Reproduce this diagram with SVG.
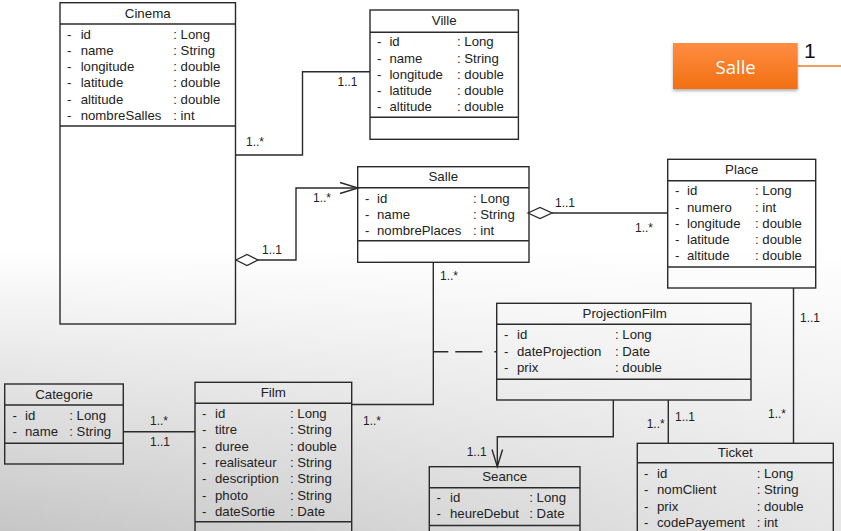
<svg xmlns="http://www.w3.org/2000/svg" width="841" height="531" viewBox="0 0 841 531">
<defs>
  <linearGradient id="bgV" x1="0" y1="0" x2="0" y2="1">
    <stop offset="0" stop-color="#ffffff"/>
    <stop offset="0.47" stop-color="#ffffff"/>
    <stop offset="0.7" stop-color="#e6e6e6"/>
    <stop offset="1" stop-color="#c6c6c6"/>
  </linearGradient>
  <linearGradient id="bgH" x1="0" y1="0" x2="1" y2="0">
    <stop offset="0" stop-color="#ffffff" stop-opacity="0"/>
    <stop offset="1" stop-color="#ffffff" stop-opacity="0.55"/>
  </linearGradient>
  <linearGradient id="orange" x1="0" y1="0" x2="0" y2="1">
    <stop offset="0" stop-color="#ff8d42"/>
    <stop offset="1" stop-color="#f26f12"/>
  </linearGradient>
  <filter id="shadow" x="-10%" y="-10%" width="120%" height="140%">
    <feDropShadow dx="0" dy="2" stdDeviation="1.5" flood-color="#000" flood-opacity="0.3"/>
  </filter>
  <style>
    .box { fill: none; stroke: #2a2a2a; stroke-width: 1.4; }
    .sep { stroke: #2a2a2a; stroke-width: 1.4; }
    .t { font-family: "Liberation Sans", Arial, sans-serif; font-size: 13.2px; fill: #222; }
    .title { font-family: "Liberation Sans", Arial, sans-serif; font-size: 13.3px; fill: #222; text-anchor: middle; }
    .lbl { font-family: "Liberation Sans", Arial, sans-serif; font-size: 12px; fill: #222; }
    .conn { fill: none; stroke: #2a2a2a; stroke-width: 1.4; }
    .dia { fill: #ffffff; stroke: #2a2a2a; stroke-width: 1.3; }
  </style>
</defs>

<rect x="0" y="0" width="841" height="531" fill="url(#bgV)"/>
<rect x="0" y="0" width="841" height="531" fill="url(#bgH)"/>

<g id="connectors">
  <!-- Cinema - Ville -->
  <polyline class="conn" points="236,155 302.5,155 302.5,71.7 370,71.7"/>
  <text class="lbl" x="246" y="146">1..*</text>
  <text class="lbl" x="337.5" y="86">1..1</text>
  <!-- Cinema - Salle -->
  <polyline class="conn" points="258,260 296,260 296,188 358,188"/>
  <polyline class="conn" points="340,182.5 358,188 340,193.5"/>
  <polygon class="dia" points="236,260 247,254.5 258,260 247,265.5"/>
  <text class="lbl" x="262" y="254">1..1</text>
  <text class="lbl" x="313" y="202">1..*</text>
  <!-- Salle - Place -->
  <line class="conn" x1="552" y1="213" x2="668" y2="213"/>
  <polygon class="dia" points="528,213 540,207.5 552,213 540,218.5"/>
  <text class="lbl" x="555" y="207">1..1</text>
  <text class="lbl" x="635" y="231.5">1..*</text>
  <!-- Salle - Film -->
  <polyline class="conn" points="433.3,262.5 433.3,404.5 352,404.5"/>
  <text class="lbl" x="440" y="280">1..*</text>
  <text class="lbl" x="363" y="425">1..*</text>
  <!-- Association class ProjectionFilm -->
  <line class="conn" x1="433.3" y1="351.7" x2="497" y2="351.7" stroke-dasharray="15 7 27 12"/>
  <!-- Categorie - Film -->
  <line class="conn" x1="123.3" y1="431.7" x2="195" y2="431.7"/>
  <text class="lbl" x="150" y="425">1..*</text>
  <text class="lbl" x="150" y="446">1..1</text>
  <!-- ProjectionFilm - Seance -->
  <polyline class="conn" points="613.3,400 613.3,436.7 497.3,436.7 497.3,466.7"/>
  <polyline class="conn" points="492,449.5 497.3,466.7 502.6,449.5"/>
  <text class="lbl" x="466.7" y="456">1..1</text>
  <!-- ProjectionFilm - Ticket -->
  <line class="conn" x1="668.3" y1="400" x2="668.3" y2="443.3"/>
  <text class="lbl" x="646.7" y="428">1..*</text>
  <text class="lbl" x="675" y="421">1..1</text>
  <!-- Place - Ticket -->
  <line class="conn" x1="793.5" y1="288" x2="793.5" y2="443.3"/>
  <text class="lbl" x="800" y="322">1..1</text>
  <text class="lbl" x="768" y="417.6">1..*</text>
  <!-- orange callout line -->
  <line x1="797.7" y1="66" x2="841" y2="66" stroke="#f07a2a" stroke-width="1.6"/>
</g>

<g id="Cinema">
  <rect class="box" x="60" y="2.7" width="175.5" height="321.3"/>
  <line class="sep" x1="60" y1="24" x2="235.5" y2="24"/>
  <line class="sep" x1="60" y1="126" x2="235.5" y2="126"/>
  <text class="title" x="147.7" y="17.5">Cinema</text>
  <text class="t" x="67" y="38.7">-</text><text class="t" x="80.7" y="38.7">id</text><text class="t" x="173.3" y="38.7">: Long</text>
  <text class="t" x="67" y="54.9">-</text><text class="t" x="80.7" y="54.9">name</text><text class="t" x="173.3" y="54.9">: String</text>
  <text class="t" x="67" y="71.1">-</text><text class="t" x="80.7" y="71.1">longitude</text><text class="t" x="173.3" y="71.1">: double</text>
  <text class="t" x="67" y="87.3">-</text><text class="t" x="80.7" y="87.3">latitude</text><text class="t" x="173.3" y="87.3">: double</text>
  <text class="t" x="67" y="103.5">-</text><text class="t" x="80.7" y="103.5">altitude</text><text class="t" x="173.3" y="103.5">: double</text>
  <text class="t" x="67" y="119.7">-</text><text class="t" x="80.7" y="119.7">nombreSalles</text><text class="t" x="173.3" y="119.7">: int</text>
</g>

<g id="Ville">
  <rect class="box" x="370" y="10" width="148.4" height="129.3"/>
  <line class="sep" x1="370" y1="32.3" x2="518.4" y2="32.3"/>
  <line class="sep" x1="370" y1="117.3" x2="518.4" y2="117.3"/>
  <text class="title" x="444.2" y="25.4">Ville</text>
  <text class="t" x="377" y="46.4">-</text><text class="t" x="389.4" y="46.4">id</text><text class="t" x="457" y="46.4">: Long</text>
  <text class="t" x="377" y="62.6">-</text><text class="t" x="389.4" y="62.6">name</text><text class="t" x="457" y="62.6">: String</text>
  <text class="t" x="377" y="78.8">-</text><text class="t" x="389.4" y="78.8">longitude</text><text class="t" x="457" y="78.8">: double</text>
  <text class="t" x="377" y="95">-</text><text class="t" x="389.4" y="95">latitude</text><text class="t" x="457" y="95">: double</text>
  <text class="t" x="377" y="111.2">-</text><text class="t" x="389.4" y="111.2">altitude</text><text class="t" x="457" y="111.2">: double</text>
</g>

<g id="SalleCallout">
  <rect x="673" y="43" width="124.7" height="46" fill="url(#orange)" filter="url(#shadow)"/>
  <text x="735.7" y="73.5" font-family="'Open Sans', 'Noto Sans', sans-serif" font-size="18.5" fill="#ffffff" text-anchor="middle">Salle</text>
  <text x="804" y="58" font-family="'Liberation Sans', Arial, sans-serif" font-size="21" fill="#111">1</text>
</g>

<g id="Salle">
  <rect class="box" x="357.7" y="166.7" width="171.3" height="95.6"/>
  <line class="sep" x1="357.7" y1="187.7" x2="529" y2="187.7"/>
  <line class="sep" x1="357.7" y1="240.7" x2="529" y2="240.7"/>
  <text class="title" x="443.3" y="180.7">Salle</text>
  <text class="t" x="365" y="202.7">-</text><text class="t" x="377" y="202.7">id</text><text class="t" x="473" y="202.7">: Long</text>
  <text class="t" x="365" y="218.7">-</text><text class="t" x="377" y="218.7">name</text><text class="t" x="473" y="218.7">: String</text>
  <text class="t" x="365" y="234.7">-</text><text class="t" x="377" y="234.7">nombrePlaces</text><text class="t" x="473" y="234.7">: int</text>
</g>

<g id="Place">
  <rect class="box" x="667.7" y="159.3" width="148" height="128.7"/>
  <line class="sep" x1="667.7" y1="180.7" x2="815.7" y2="180.7"/>
  <line class="sep" x1="667.7" y1="267" x2="815.7" y2="267"/>
  <text class="title" x="741.7" y="174">Place</text>
  <text class="t" x="675" y="195.4">-</text><text class="t" x="687" y="195.4">id</text><text class="t" x="755" y="195.4">: Long</text>
  <text class="t" x="675" y="211.6">-</text><text class="t" x="687" y="211.6">numero</text><text class="t" x="755" y="211.6">: int</text>
  <text class="t" x="675" y="227.8">-</text><text class="t" x="687" y="227.8">longitude</text><text class="t" x="755" y="227.8">: double</text>
  <text class="t" x="675" y="244">-</text><text class="t" x="687" y="244">latitude</text><text class="t" x="755" y="244">: double</text>
  <text class="t" x="675" y="260.2">-</text><text class="t" x="687" y="260.2">altitude</text><text class="t" x="755" y="260.2">: double</text>
</g>

<g id="ProjectionFilm">
  <rect class="box" x="496.7" y="303.3" width="254.3" height="96.7"/>
  <line class="sep" x1="496.7" y1="324.3" x2="751" y2="324.3"/>
  <line class="sep" x1="496.7" y1="379.3" x2="751" y2="379.3"/>
  <text class="title" x="624.7" y="318">ProjectionFilm</text>
  <text class="t" x="504" y="339">-</text><text class="t" x="517" y="339">id</text><text class="t" x="615" y="339">: Long</text>
  <text class="t" x="504" y="355.5">-</text><text class="t" x="517" y="355.5">dateProjection</text><text class="t" x="615" y="355.5">: Date</text>
  <text class="t" x="504" y="372">-</text><text class="t" x="517" y="372">prix</text><text class="t" x="615" y="372">: double</text>
</g>

<g id="Categorie">
  <rect class="box" x="4.7" y="384" width="118.6" height="80"/>
  <line class="sep" x1="4.7" y1="405" x2="123.3" y2="405"/>
  <line class="sep" x1="4.7" y1="443.3" x2="123.3" y2="443.3"/>
  <text class="title" x="64" y="398.7">Categorie</text>
  <text class="t" x="12.5" y="419.7">-</text><text class="t" x="25" y="419.7">id</text><text class="t" x="69.3" y="419.7">: Long</text>
  <text class="t" x="12.5" y="436.4">-</text><text class="t" x="25" y="436.4">name</text><text class="t" x="69.3" y="436.4">: String</text>
</g>

<g id="Film">
  <rect class="box" x="195" y="382.3" width="156.7" height="170"/>
  <line class="sep" x1="195" y1="403.3" x2="351.7" y2="403.3"/>
  <line class="sep" x1="195" y1="521.7" x2="351.7" y2="521.7"/>
  <text class="title" x="273.3" y="397">Film</text>
  <text class="t" x="202" y="418">-</text><text class="t" x="215" y="418">id</text><text class="t" x="290" y="418">: Long</text>
  <text class="t" x="202" y="434.3">-</text><text class="t" x="215" y="434.3">titre</text><text class="t" x="290" y="434.3">: String</text>
  <text class="t" x="202" y="450.7">-</text><text class="t" x="215" y="450.7">duree</text><text class="t" x="290" y="450.7">: double</text>
  <text class="t" x="202" y="467">-</text><text class="t" x="215" y="467">realisateur</text><text class="t" x="290" y="467">: String</text>
  <text class="t" x="202" y="483.3">-</text><text class="t" x="215" y="483.3">description</text><text class="t" x="290" y="483.3">: String</text>
  <text class="t" x="202" y="499.7">-</text><text class="t" x="215" y="499.7">photo</text><text class="t" x="290" y="499.7">: String</text>
  <text class="t" x="202" y="516">-</text><text class="t" x="215" y="516">dateSortie</text><text class="t" x="290" y="516">: Date</text>
</g>

<g id="Seance">
  <rect class="box" x="429.3" y="466.7" width="150.7" height="90"/>
  <line class="sep" x1="429.3" y1="487.7" x2="580" y2="487.7"/>
  <line class="sep" x1="429.3" y1="525.5" x2="580" y2="525.5"/>
  <text class="title" x="504.7" y="481.3">Seance</text>
  <text class="t" x="436.5" y="502.3">-</text><text class="t" x="450" y="502.3">id</text><text class="t" x="529.3" y="502.3">: Long</text>
  <text class="t" x="436.5" y="518">-</text><text class="t" x="450" y="518">heureDebut</text><text class="t" x="529.3" y="518">: Date</text>
</g>

<g id="Ticket">
  <rect class="box" x="637.3" y="443.3" width="196" height="110"/>
  <line class="sep" x1="637.3" y1="462.7" x2="833.3" y2="462.7"/>
  <text class="title" x="735.3" y="457.4">Ticket</text>
  <text class="t" x="644" y="478">-</text><text class="t" x="657" y="478">id</text><text class="t" x="756.7" y="478">: Long</text>
  <text class="t" x="644" y="494.4">-</text><text class="t" x="657" y="494.4">nomClient</text><text class="t" x="756.7" y="494.4">: String</text>
  <text class="t" x="644" y="510.8">-</text><text class="t" x="657" y="510.8">prix</text><text class="t" x="756.7" y="510.8">: double</text>
  <text class="t" x="644" y="527.2">-</text><text class="t" x="657" y="527.2">codePayement</text><text class="t" x="756.7" y="527.2">: int</text>
</g>
</svg>
